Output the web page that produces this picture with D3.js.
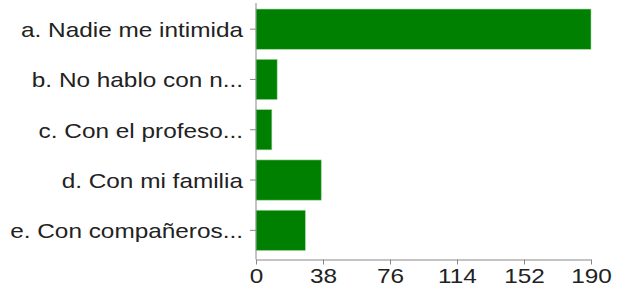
<!DOCTYPE html>
<html>
<head>
<meta charset="utf-8">
<script src="https://cdn.jsdelivr.net/npm/d3@7"></script>
<style>
  body { margin: 0; background: #fff; }
  svg text { font-family: "Liberation Sans", Arial, sans-serif; fill: #222; }
</style>
</head>
<body>
<div id="chart"></div>
<script>
// answers and counts
const categories = [
  'a. Nadie me intimida',
  'b. No hablo con n...',
  'c. Con el profeso...',
  'd. Con mi familia',
  'e. Con compañeros...'
];
const counts = [190, 12, 9, 37, 28];
const xTicks = [0, 38, 76, 114, 152, 190];

const W = 621, H = 293;
const FONT = 21;
const STRETCH = 1.16; // the picture's text is a bit wide

const svg = d3.select('#chart')
  .append('svg')
  .attr('width', W)
  .attr('height', H);

const x = d3.scaleLinear()
  .domain([0, 190])
  .range([256, 591]);

const y = d3.scaleBand()
  .domain(categories)
  .range([4, 255.5])
  .paddingInner(0.2)
  .paddingOuter(0.1);

// bars
svg.selectAll('.bar')
  .data(categories)
  .enter()
  .append('rect')
    .attr('class', 'bar')
    .attr('x', x(0))
    .attr('y', d => y(d))
    .attr('width', (d, i) => x(counts[i]) - x(0))
    .attr('height', y.bandwidth())
    .attr('fill', '#008000')
    .attr('stroke', '#9fd89f')
    .attr('stroke-width', 0.6);

// left axis
const yAxis = svg.append('g')
  .attr('transform', `translate(${x(0)},0)`)
  .call(d3.axisLeft(y).tickSize(6).tickSizeOuter(0).tickPadding(7));
yAxis.select('.domain').remove();
yAxis.append('line')
  .attr('x1', 0).attr('x2', 0)
  .attr('y1', 3).attr('y2', 259.5)
  .attr('stroke', '#888');
yAxis.selectAll('.tick line').attr('stroke', '#888');
yAxis.selectAll('.tick text')
  .attr('font-size', FONT)
  .attr('dy', '0.38em')
  .attr('transform', function () {
    const tx = +d3.select(this).attr('x');
    return `translate(${tx},0) scale(${STRETCH},1) translate(${-tx},0)`;
  });

// bottom axis
const xAxis = svg.append('g')
  .attr('transform', 'translate(0,259.5)')
  .call(d3.axisBottom(x).tickValues(xTicks).tickSize(5).tickSizeOuter(0).tickPadding(4));
xAxis.select('.domain').attr('stroke', '#888');
xAxis.selectAll('.tick line').attr('stroke', '#888');
xAxis.selectAll('.tick text')
  .attr('font-size', FONT)
  .attr('transform', `scale(${STRETCH},1)`);
</script>
</body>
</html>
